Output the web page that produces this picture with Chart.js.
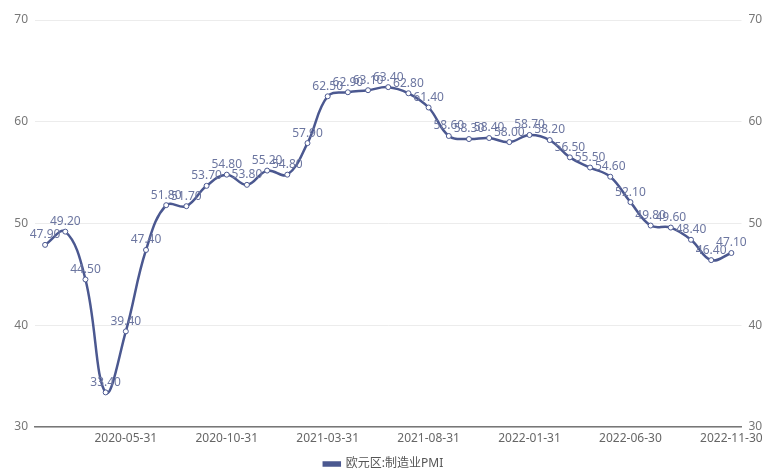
<!DOCTYPE html>
<html>
<head>
<meta charset="utf-8">
<script src="https://cdn.jsdelivr.net/npm/chart.js@4"></script>
<style>
  html, body { margin: 0; padding: 0; background: #fff; }
  #wrap { width: 767px; height: 471px; }
</style>
</head>
<body>
<div id="wrap"><canvas id="pmi" width="767" height="471"></canvas></div>
<script>
// month-end dates, Jan 2020 .. Nov 2022
const months = [
  '2020-01-31', '2020-02-29', '2020-03-31', '2020-04-30', '2020-05-31', '2020-06-30',
  '2020-07-31', '2020-08-31', '2020-09-30', '2020-10-31', '2020-11-30', '2020-12-31',
  '2021-01-31', '2021-02-28', '2021-03-31', '2021-04-30', '2021-05-31', '2021-06-30',
  '2021-07-31', '2021-08-31', '2021-09-30', '2021-10-31', '2021-11-30', '2021-12-31',
  '2022-01-31', '2022-02-28', '2022-03-31', '2022-04-30', '2022-05-31', '2022-06-30',
  '2022-07-31', '2022-08-31', '2022-09-30', '2022-10-31', '2022-11-30'
];

const pmi = [
  47.9, 49.2, 44.5, 33.4, 39.4, 47.4, 51.8, 51.7, 53.7, 54.8, 53.8, 55.2,
  54.8, 57.9, 62.5, 62.9, 63.1, 63.4, 62.8, 61.4, 58.6, 58.3, 58.4, 58.0,
  58.7, 58.2, 56.5, 55.5, 54.6, 52.1, 49.8, 49.6, 48.4, 46.4, 47.1
];

const yTicks = [30, 40, 50, 60, 70];

const lineColor = '#4b5890';
const labelColor = '#6c76a0';
const fontFamily = '"Noto Sans", "Noto Sans CJK SC", sans-serif';

// value labels above every point
const pointLabels = {
  id: 'pointLabels',
  afterDatasetsDraw(chart) {
    const ctx = chart.ctx;
    const meta = chart.getDatasetMeta(0);
    ctx.save();
    ctx.font = '12px ' + fontFamily;
    ctx.fillStyle = labelColor;
    ctx.textAlign = 'center';
    ctx.textBaseline = 'bottom';
    meta.data.forEach((pt, i) => {
      ctx.fillText(pmi[i].toFixed(2), pt.x, pt.y - 4);
    });
    ctx.restore();
  }
};

const yTickOpts = {
  color: '#777',
  font: { size: 12, family: fontFamily },
  padding: 7,
  callback: v => yTicks.includes(v) ? v : ''
};

new Chart(document.getElementById('pmi'), {
  type: 'line',
  data: {
    labels: months,
    datasets: [{
      label: '欧元区:制造业PMI',
      data: pmi,
      borderColor: lineColor,
      backgroundColor: lineColor,
      borderWidth: 2.5,
      tension: 0.4,
      pointRadius: 2.5,
      pointBackgroundColor: '#fff',
      pointBorderColor: lineColor,
      pointBorderWidth: 1,
      yAxisID: 'y'
    }]
  },
  options: {
    responsive: false,
    animation: false,
    // legend sits close to the bottom edge
    layout: { padding: { top: 20, left: 0, right: 0, bottom: -9 } },
    plugins: {
      legend: {
        position: 'bottom',
        labels: {
          color: '#555',
          font: { size: 12, family: fontFamily },
          boxWidth: 16,
          boxHeight: 3,
          padding: 2
        }
      },
      tooltip: { enabled: false }
    },
    scales: {
      x: {
        offset: true,
        grid: { display: false, drawTicks: false },
        border: { color: '#777', width: 1.5 },
        ticks: {
          color: '#666',
          font: { size: 12, family: fontFamily },
          autoSkip: false,
          maxRotation: 0,
          padding: 4,
          callback: function (v, i) { return (i - 4) % 5 === 0 ? months[i] : ''; }
        },
        afterFit: s => { s.height = 29; }
      },
      y: {
        position: 'left',
        min: 30, max: 70,
        grid: { color: '#ececec', drawTicks: false },
        border: { display: false },
        ticks: Object.assign({ stepSize: 10 }, yTickOpts),
        afterFit: s => { s.width = 35; }
      },
      y1: {
        position: 'right',
        min: 30, max: 70,
        grid: { display: false, drawTicks: false },
        border: { display: false },
        ticks: Object.assign({ stepSize: 10 }, yTickOpts),
        afterFit: s => { s.width = 22; }
      }
    }
  },
  plugins: [pointLabels]
});
</script>
</body>
</html>
